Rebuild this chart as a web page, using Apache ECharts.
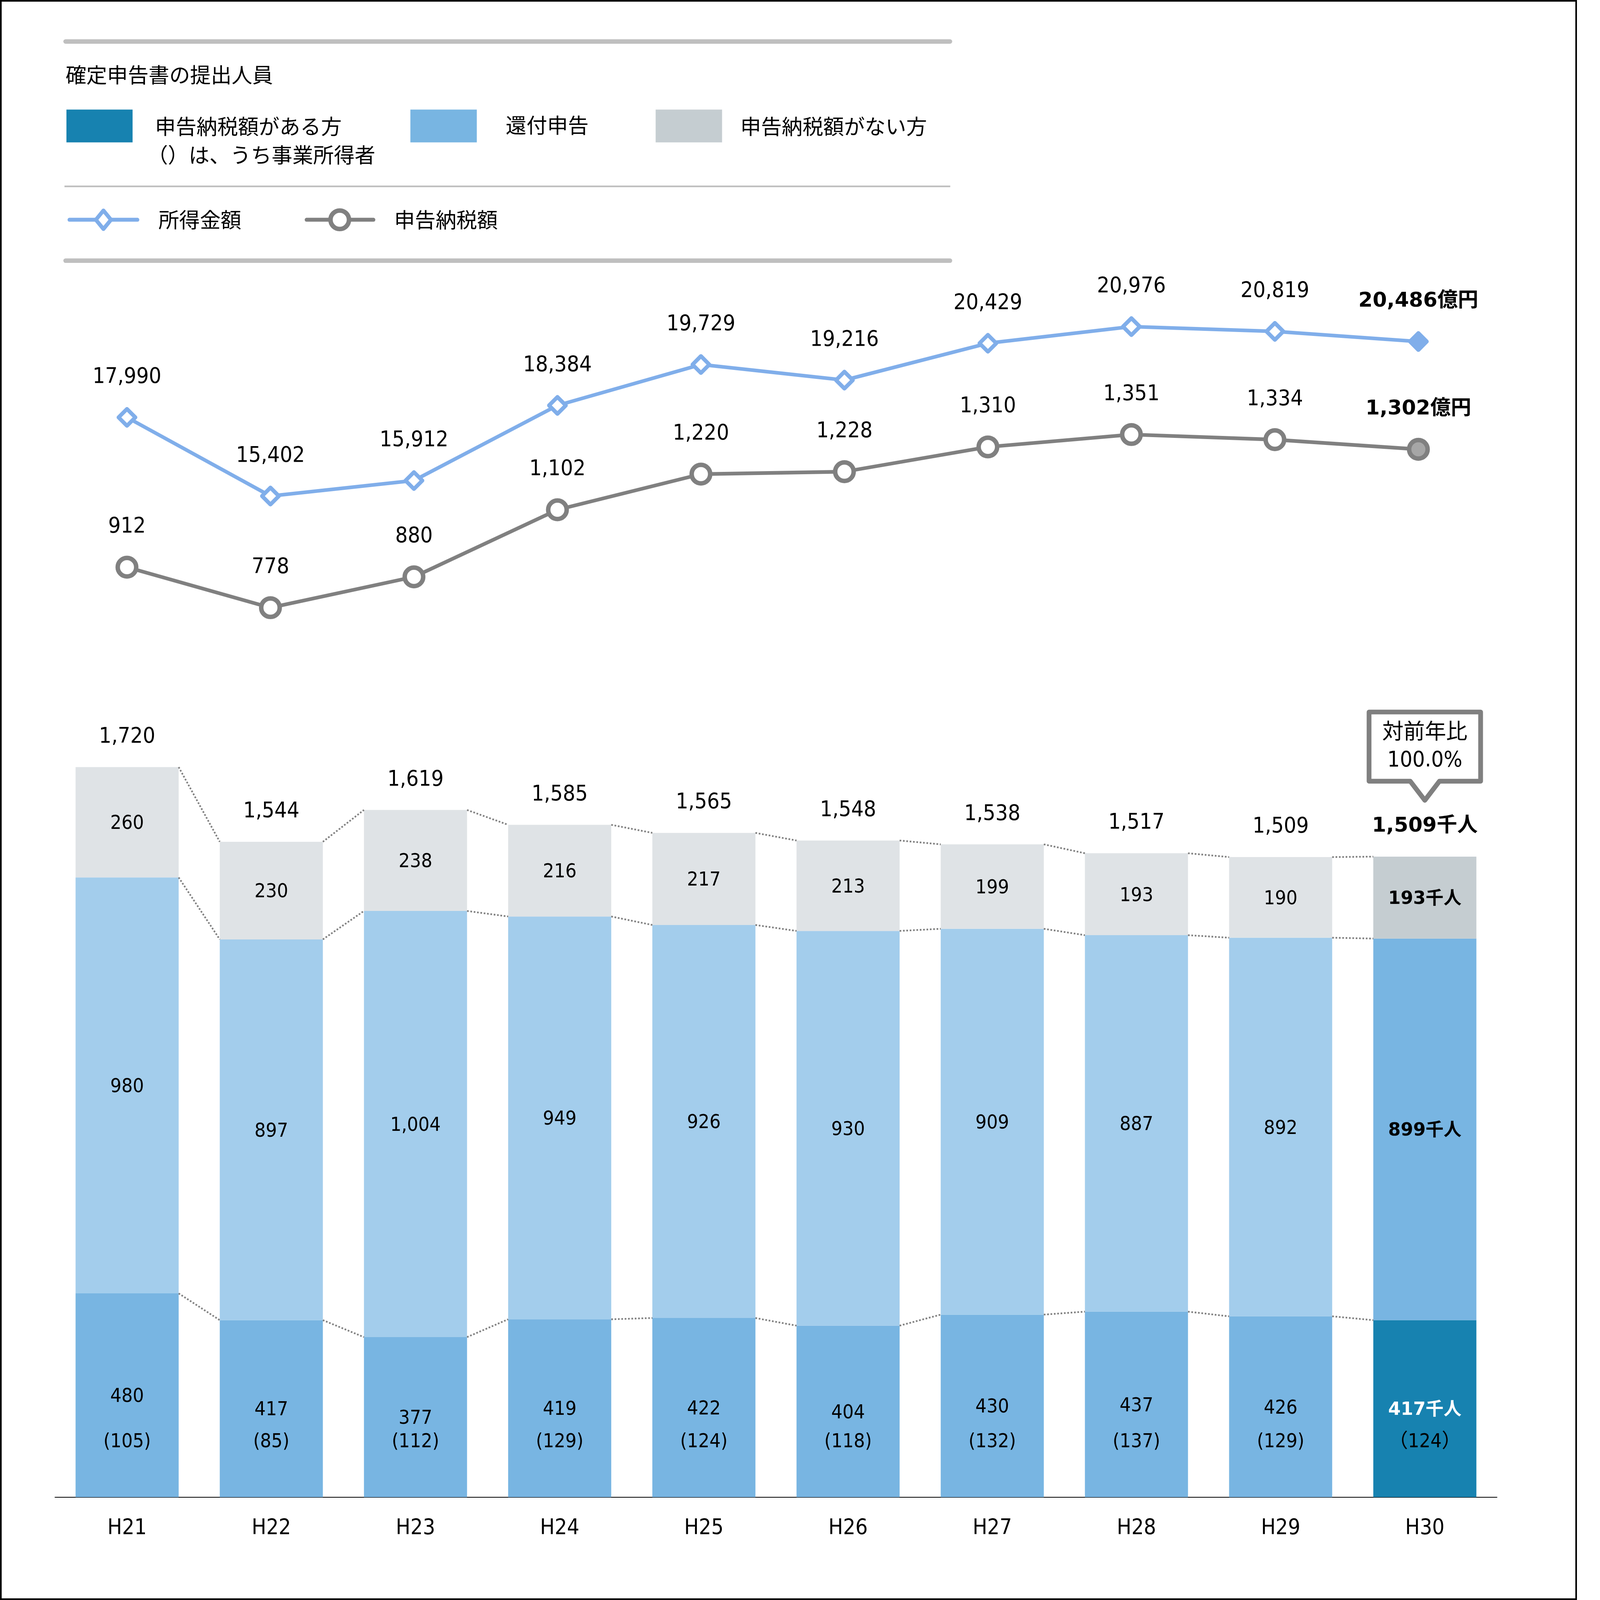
<!DOCTYPE html>
<html>
<head>
<meta charset="utf-8">
<script src="https://cdn.jsdelivr.net/npm/echarts@6/dist/echarts.min.js"></script>
<style>
html,body{margin:0;padding:0;background:#fff;overflow:hidden}
#c{width:5626px;height:5708px;transform-origin:0 0}
</style>
</head>
<body>
<div id="c"></div>
<script>
// ---- data ----
const years = ['H21','H22','H23','H24','H25','H26','H27','H28','H29','H30'];
const taxPayers = [480,417,377,419,422,404,430,437,426,417];      // 申告納税額がある方
const selfEmployed = [105,85,112,129,124,118,132,137,129,124];    // うち事業所得者
const refunds = [980,897,1004,949,926,930,909,887,892,899];       // 還付申告
const noTax = [260,230,238,216,217,213,199,193,190,193];          // 申告納税額がない方
const totals = [1720,1544,1619,1585,1565,1548,1538,1517,1509,1509];
const incomeAmount = [17990,15402,15912,18384,19729,19216,20429,20976,20819,20486]; // 所得金額
const taxAmount = [912,778,880,1102,1220,1228,1310,1351,1334,1302];                 // 申告納税額
const yoyLines = ['対前年比','100.0%'];

// ---- derived ----
const last = years.length - 1;
const cum1 = taxPayers.slice();
const cum2 = taxPayers.map((v,i)=>v+refunds[i]);
const cum3 = cum2.map((v,i)=>v+noTax[i]);
const fmt = v => Number(v).toLocaleString('en-US');

const NUM = "'DejaVu Sans Condensed','DejaVu Sans','Noto Sans CJK JP',sans-serif";
const BOLD = "'DejaVu Sans','Noto Sans CJK JP',sans-serif";
const JP = "'Noto Sans CJK JP','Noto Sans',sans-serif";

const C = {
  incomeLine:'#80aeea', taxLine:'#808080', taxLastFill:'#a6a6a6',
  bottomOld:'#78b5e2', midOld:'#a3cdec', topOld:'#dfe3e6',
  bottomNew:'#1782b0', midNew:'#78b5e2', topNew:'#c5cdd1',
  dots:'#808080', rule:'#bfbfbf'
};
const BAR_RATIO = 0.715;

// fit the 5626x5708 design into the actual viewport
const W = 5626, H = 5708;
const el = document.getElementById('c');
const k = Math.min(window.innerWidth / W, window.innerHeight / H);
el.style.transform = 'scale(' + k + ')';
const chart = echarts.init(el, null, {renderer:'canvas', devicePixelRatio: (window.devicePixelRatio || 1) * k});

function lineData(arr, lastStyle, lastLabel) {
  return arr.map((v,i)=> i===last ? {value:v, itemStyle:lastStyle, label:lastLabel(v)} : v);
}
const boldLbl = (txt, color, size) => ({color:color, fontFamily:BOLD, fontWeight:'bold', fontSize:size, formatter: txt});
const inLbl = {show:true, position:'inside', offset:[0,6], fontSize:70, lineHeight:70, fontFamily:NUM, color:'#000', textBorderWidth:0,
  formatter:p=>fmt(p.value)};

const option = {
  animation:false,
  backgroundColor:'#fff',
  grid:[
    {left:197, right:310, top:1054.2, bottom:3352.5, outerBoundsMode:'none'},
    {left:196.3, right:285.7, top:2312.6, bottom:367, outerBoundsMode:'none'}
  ],
  xAxis:[
    {type:'category', gridIndex:0, data:years, show:false},
    {type:'category', gridIndex:1, data:years,
      axisLine:{show:true, lineStyle:{color:'#000', width:3}},
      axisTick:{show:false},
      axisLabel:{margin:73, fontSize:77, fontFamily:NUM, color:'#000', lineHeight:77},
      splitLine:{show:false}}
  ],
  yAxis:[
    {type:'value', gridIndex:0, min:10000, max:22000, show:false, splitLine:{show:false}},
    {type:'value', gridIndex:0, min:604, max:1811, show:false, splitLine:{show:false}},
    {type:'value', gridIndex:1, min:0, max:2000, show:false, splitLine:{show:false}}
  ],
  series:[
    {
      name:'所得金額', type:'line', xAxisIndex:0, yAxisIndex:0, clip:false,
      symbol:'diamond', symbolSize:60, z:5,
      lineStyle:{color:C.incomeLine, width:13},
      itemStyle:{color:'#fff', borderColor:C.incomeLine, borderWidth:14, borderJoin:'round'},
      label:{show:true, position:'top', distance:67, fontSize:78, lineHeight:78, fontFamily:NUM, color:'#000',
        formatter:p=>fmt(p.value)},
      data: lineData(incomeAmount, {color:C.incomeLine, borderColor:C.incomeLine},
        v=>boldLbl(fmt(v)+'億円', '#000', 73))
    },
    {
      name:'申告納税額', type:'line', xAxisIndex:0, yAxisIndex:1, clip:false,
      symbol:'circle', symbolSize:66, z:5,
      lineStyle:{color:C.taxLine, width:13},
      itemStyle:{color:'#fff', borderColor:C.taxLine, borderWidth:16},
      label:{show:true, position:'top', distance:64, fontSize:78, lineHeight:78, fontFamily:NUM, color:'#000',
        formatter:p=>fmt(p.value)},
      data: lineData(taxAmount, {color:C.taxLastFill, borderColor:C.taxLine},
        v=>boldLbl(fmt(v)+'億円', '#000', 73))
    },
    {
      name:'申告納税額がある方', type:'bar', xAxisIndex:1, yAxisIndex:2, stack:'people', barWidth:(BAR_RATIO*100)+'%',
      itemStyle:{color:C.bottomOld},
      label:inLbl,
      data: taxPayers.map((v,i)=> i===last ? {value:v, itemStyle:{color:C.bottomNew}, label:boldLbl(v+'千人','#fff',64)} : v)
    },
    {
      name:'還付申告', type:'bar', xAxisIndex:1, yAxisIndex:2, stack:'people', barWidth:(BAR_RATIO*100)+'%',
      itemStyle:{color:C.midOld},
      label:inLbl,
      data: refunds.map((v,i)=> i===last ? {value:v, itemStyle:{color:C.midNew}, label:boldLbl(v+'千人','#000',64)} : v)
    },
    {
      name:'申告納税額がない方', type:'bar', xAxisIndex:1, yAxisIndex:2, stack:'people', barWidth:(BAR_RATIO*100)+'%',
      itemStyle:{color:C.topOld},
      label:inLbl,
      data: noTax.map((v,i)=> i===last ? {value:v, itemStyle:{color:C.topNew}, label:boldLbl(v+'千人','#000',64)} : v)
    },
    {
      name:'connectors', type:'custom', xAxisIndex:1, yAxisIndex:2, z:3, silent:true,
      data: years.slice(0,last).map((_,i)=>[i, cum3[i]]),
      encode:{x:0, y:1},
      renderItem:(params, api)=>{
        const i = api.value(0);
        const hw = api.size([1,0])[0]*BAR_RATIO/2;
        const children = [cum1, cum2, cum3].map(cum=>{
          const a = api.coord([i, cum[i]]), b = api.coord([i+1, cum[i+1]]);
          return {type:'line', shape:{x1:a[0]+hw, y1:a[1], x2:b[0]-hw, y2:b[1]},
            style:{stroke:C.dots, lineWidth:6, lineDash:[6,6]}};
        });
        return {type:'group', children};
      }
    },
    {
      name:'totals', type:'custom', xAxisIndex:1, yAxisIndex:2, z:6, silent:true,
      data: totals.map((t,i)=>[i, cum3[i], t]),
      encode:{x:0, y:1},
      renderItem:(params, api)=>{
        const i = api.value(0);
        const p = api.coord([i, api.value(1)]);
        const isLast = i===last;
        return {type:'text', x:p[0], y:p[1]-108,
          style:{text: isLast ? fmt(api.value(2))+'千人' : fmt(api.value(2)),
            fontSize: isLast?73:78, fontFamily: isLast?BOLD:NUM, fontWeight: isLast?'bold':'normal',
            fill:'#000', align:'center', verticalAlign:'middle'}};
      }
    },
    {
      name:'うち事業所得者', type:'custom', xAxisIndex:1, yAxisIndex:2, z:6, silent:true,
      data: selfEmployed.map((v,i)=>[i, 0, v]),
      encode:{x:0, y:1},
      renderItem:(params, api)=>{
        const i = api.value(0);
        const p = api.coord([i, 0]);
        const v = api.value(2);
        return {type:'text', x:p[0], y:p[1]-196,
          style:{text: i===last ? '（'+v+'）' : '('+v+')', fontSize:70, fontFamily:NUM,
            fill:'#000', align:'center', verticalAlign:'middle'}};
      }
    },
    {
      name:'callout', type:'custom', xAxisIndex:1, yAxisIndex:2, z:7, silent:true,
      data: [[last, cum3[last]]],
      encode:{x:0, y:1},
      renderItem:(params, api)=>{
        const p = api.coord([api.value(0), api.value(1)]);
        const cx = p[0], ay = p[1]-201;
        const hwBox = 199, top = ay-315, bot = ay-68, hp = 52;
        return {type:'group', children:[
          {type:'polygon', shape:{points:[[cx-hwBox,top],[cx+hwBox,top],[cx+hwBox,bot],[cx+hp,bot],[cx,ay],[cx-hp,bot],[cx-hwBox,bot]]},
            style:{fill:'#fff', stroke:'#808080', lineWidth:17, lineJoin:'round'}},
          {type:'text', x:cx, y:ay-249, style:{text:yoyLines[0], fontSize:76, fontFamily:JP, fill:'#000', align:'center', verticalAlign:'middle'}},
          {type:'text', x:cx, y:ay-141, style:{text:yoyLines[1], fontSize:78, fontFamily:NUM, fill:'#000', align:'center', verticalAlign:'middle'}}
        ]};
      }
    }
  ],
  graphic:{elements:[
    {type:'rect', shape:{x:3, y:3, width:5620, height:5702}, style:{fill:'none', stroke:'#000', lineWidth:6}, silent:true},
    {type:'line', shape:{x1:234, y1:148, x2:3389, y2:148}, style:{stroke:C.rule, lineWidth:16, lineCap:'round'}},
    {type:'text', x:234, y:267, style:{text:'確定申告書の提出人員', fontSize:74, fontFamily:JP, fill:'#000', verticalAlign:'middle'}},
    {type:'rect', shape:{x:237, y:391, width:236, height:117}, style:{fill:C.bottomNew}},
    {type:'text', x:553, y:451, style:{text:'申告納税額がある方', fontSize:74, fontFamily:JP, fill:'#000', verticalAlign:'middle'}},
    {type:'text', x:525, y:553, style:{text:'（）は、うち事業所得者', fontSize:74, fontFamily:JP, fill:'#000', verticalAlign:'middle'}},
    {type:'rect', shape:{x:1464, y:391, width:237, height:117}, style:{fill:C.midNew}},
    {type:'text', x:1804, y:447, style:{text:'還付申告', fontSize:74, fontFamily:JP, fill:'#000', verticalAlign:'middle'}},
    {type:'rect', shape:{x:2339, y:391, width:237, height:117}, style:{fill:C.topNew}},
    {type:'text', x:2641, y:451, style:{text:'申告納税額がない方', fontSize:74, fontFamily:JP, fill:'#000', verticalAlign:'middle'}},
    {type:'line', shape:{x1:230, y1:665, x2:3390, y2:665}, style:{stroke:C.rule, lineWidth:6}},
    {type:'line', shape:{x1:248, y1:784, x2:490, y2:784}, style:{stroke:C.incomeLine, lineWidth:14, lineCap:'round'}},
    {type:'polygon', shape:{points:[[369,751],[396,784],[369,817],[342,784]]}, style:{fill:'#fff', stroke:C.incomeLine, lineWidth:14, lineJoin:'round'}},
    {type:'text', x:565, y:784, style:{text:'所得金額', fontSize:74, fontFamily:JP, fill:'#000', verticalAlign:'middle'}},
    {type:'line', shape:{x1:1094, y1:784, x2:1332, y2:784}, style:{stroke:C.taxLine, lineWidth:14, lineCap:'round'}},
    {type:'circle', shape:{cx:1212, cy:784, r:33}, style:{fill:'#fff', stroke:C.taxLine, lineWidth:16}},
    {type:'text', x:1406, y:784, style:{text:'申告納税額', fontSize:74, fontFamily:JP, fill:'#000', verticalAlign:'middle'}},
    {type:'line', shape:{x1:234, y1:930, x2:3389, y2:930}, style:{stroke:C.rule, lineWidth:16, lineCap:'round'}}
  ]}
};
chart.setOption(option);
</script>
</body>
</html>
